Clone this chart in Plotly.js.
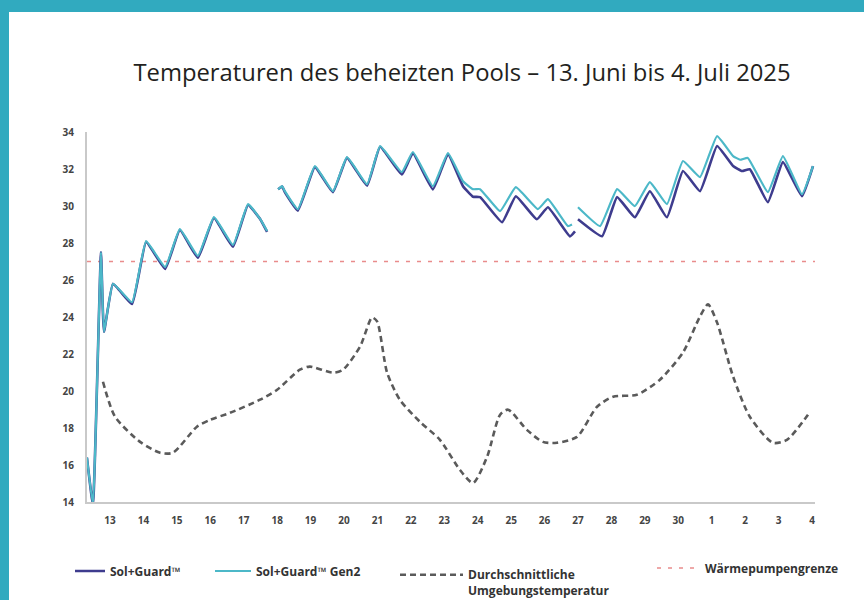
<!DOCTYPE html>
<html>
<head>
<meta charset="utf-8">
<script src="https://cdn.plot.ly/plotly-3.0.1.min.js"></script>
<style>
  html, body { margin:0; padding:0; width:864px; height:600px; background:#31aabf; overflow:hidden; }
  #chart { position:absolute; left:9px; top:12px; width:855px; height:588px; background:#ffffff; }
</style>
</head>
<body>
<div id="chart"></div>
<script>
// ---- DATA (x = day offset from 13 June 2025) ----
const dayTickLabels = ["13","14","15","16","17","18","19","20","21","22","23","24","25","26","27","28","29","30","1","2","3","4"];

const gen2X = [-0.69,-0.51,-0.27,-0.18,0.09,0.66,1.08,1.65,2.09,2.63,3.11,3.68,4.13,4.49,4.70,null,
  5.03,5.15,5.23,5.62,6.13,6.67,7.09,7.69,8.08,8.73,9.06,9.66,10.11,10.56,10.86,11.07,11.67,12.14,12.80,13.10,13.70,13.82,null,
  14.00,14.66,15.17,15.70,16.15,16.66,17.14,17.65,18.16,18.64,18.85,19.08,19.68,20.13,20.70,21.03];
const gen2Y = [16.4,13.85,27.5,23.2,25.8,24.8,28.1,26.7,28.75,27.3,29.4,27.9,30.1,29.3,28.65,null,
  30.9,31.07,30.8,29.83,32.16,30.8,32.64,31.18,33.24,31.83,32.92,31.07,32.86,31.34,30.91,30.91,29.72,31.02,29.83,30.37,28.91,29.0,null,
  29.93,28.91,30.91,29.99,31.29,30.1,32.43,31.56,33.78,32.7,32.5,32.6,30.75,32.7,30.64,32.16];

const solX = [-0.69,-0.51,-0.27,-0.18,0.09,0.66,1.08,1.65,2.09,2.63,3.11,3.68,4.13,4.49,4.70,null,
  5.03,5.15,5.23,5.62,6.13,6.67,7.09,7.69,8.08,8.73,9.06,9.66,10.11,10.56,10.86,11.07,11.73,12.14,12.77,13.10,13.76,13.91,null,
  14.00,14.72,15.17,15.70,16.15,16.66,17.14,17.65,18.16,18.64,18.91,19.14,19.68,20.13,20.70,21.03];
const solY = [16.4,13.85,27.5,23.2,25.8,24.7,28.05,26.6,28.7,27.2,29.35,27.8,30.05,29.3,28.6,null,
  30.9,31.05,30.75,29.75,32.1,30.75,32.6,31.1,33.2,31.7,32.85,30.9,32.8,31.07,30.5,30.48,29.12,30.53,29.28,29.93,28.36,28.63,null,
  29.28,28.36,30.48,29.39,30.8,29.39,31.89,30.8,33.24,32.16,31.89,31.99,30.21,32.37,30.53,32.16];

const ambientX = [-0.21,0.15,0.90,1.50,1.88,2.60,2.99,3.59,4.49,5.00,5.68,5.98,6.67,6.97,7.48,7.84,7.99,8.29,8.67,9.27,9.87,10.47,10.86,11.28,11.67,11.91,12.47,12.95,13.37,13.97,14.57,15.05,15.76,16.45,17.14,17.65,17.89,18.16,18.64,19.14,19.83,20.25,20.88];
const ambientY = [20.5,18.61,17.25,16.66,16.66,18.07,18.44,18.82,19.53,20.07,21.15,21.32,20.99,21.15,22.4,23.97,23.76,20.99,19.53,18.34,17.36,15.73,15.03,16.44,18.72,18.99,17.9,17.25,17.2,17.52,19.15,19.69,19.8,20.61,22.08,24.03,24.68,23.7,20.78,18.61,17.2,17.36,18.72];

const heatPumpLimit = 27;
const xRange = [-0.688, 21.09];
const yRange = [14, 34];
const yTicks = [14,16,18,20,22,24,26,28,30,32,34];

const seriesNames = ["Sol+Guard™", "Sol+Guard™ Gen2", "Durchschnittliche<br>Umgebungstemperatur", "Wärmepumpengrenze"];

// ---- CHART ----
const legendFont = {family:"Open Sans", size:12, color:"#333", weight:"bold"};
const traces = [
  {x:[xRange[0], xRange[1]], y:[heatPumpLimit, heatPumpLimit], mode:"lines", name:seriesNames[3], legend:"legend4",
   line:{color:"#e98c8c", width:1.6, dash:"4px,7px"}},
  {x:ambientX, y:ambientY, mode:"lines", name:seriesNames[2], legend:"legend3",
   line:{color:"#5a5a5a", width:2.6, dash:"6px,4px", shape:"spline", smoothing:0.7}},
  {x:solX, y:solY, mode:"lines", name:seriesNames[0], legend:"legend",
   line:{color:"#3e3c8e", width:2.6, shape:"spline", smoothing:0.35}, connectgaps:false},
  {x:gen2X, y:gen2Y, mode:"lines", name:seriesNames[1], legend:"legend2",
   line:{color:"#4cb8c8", width:2.2, shape:"spline", smoothing:0.35}, connectgaps:false}
];

const legBase = {orientation:"h", xref:"container", yref:"container", xanchor:"left", yanchor:"middle",
  bgcolor:"rgba(0,0,0,0)", font:legendFont, itemclick:false, itemdoubleclick:false};

const layout = {
  width:855, height:588,
  paper_bgcolor:"#ffffff", plot_bgcolor:"#ffffff",
  margin:{l:78, r:49, t:120, b:98},
  title:{text:"Temperaturen des beheizten Pools – 13. Juni bis 4. Juli 2025",
    font:{family:"Open Sans", size:23.8, color:"#231f20"},
    x:(462-9)/855, xref:"container", xanchor:"center", y:0.896, yref:"container", yanchor:"middle"},
  xaxis:{range:xRange, tickmode:"array", tickvals:dayTickLabels.map((_, i) => i), ticktext:dayTickLabels,
    showgrid:false, zeroline:false, showline:true, linecolor:"#c9c9c9", linewidth:2,
    ticks:"", ticklabelstandoff:8, tickfont:{family:"Open Sans", size:10, color:"#444", weight:"bold"}},
  yaxis:{range:yRange, tickmode:"array", tickvals:yTicks,
    showgrid:false, zeroline:false, showline:true, linecolor:"#c9c9c9", linewidth:2,
    ticks:"", ticklabelstandoff:9, tickfont:{family:"Open Sans", size:10, color:"#444", weight:"bold"}},
  showlegend:true,
  legend: Object.assign({}, legBase, {x:(70-9)/855, y:1-(571-12)/588, itemwidth:30}),
  legend2: Object.assign({}, legBase, {x:(210-9)/855, y:1-(571-12)/588, itemwidth:36}),
  legend3: Object.assign({}, legBase, {x:(395-9)/855, y:1-(583-12)/588, itemwidth:63, valign:"top"}),
  legend4: Object.assign({}, legBase, {x:(652-9)/855, y:1-(568-12)/588, itemwidth:43}),
  annotations:[
    {text:"Datum", xref:"container", yref:"container", x:(495-9)/855, y:1-(549-12)/588,
     xanchor:"center", yanchor:"middle", showarrow:false, font:{family:"Open Sans", size:16, color:"#231f20"}},
    {text:"Temperatur (°C)", xref:"container", yref:"container", x:(42-9)/855, y:1-(327-12)/588,
     xanchor:"center", yanchor:"middle", textangle:-90, showarrow:false, font:{family:"Open Sans", size:18, color:"#231f20"}}
  ]
};

Plotly.newPlot("chart", traces, layout, {displayModeBar:false, staticPlot:true});
</script>
</body>
</html>
